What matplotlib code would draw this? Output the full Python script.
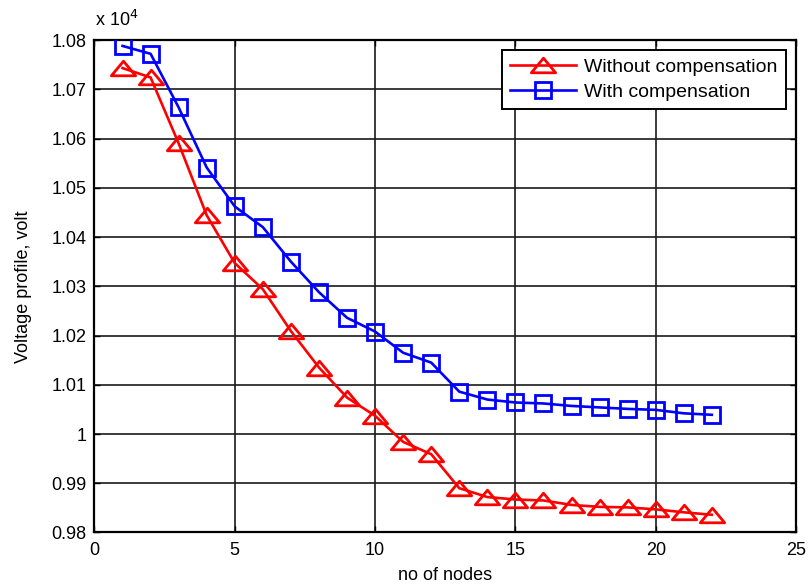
import matplotlib
matplotlib.use("Agg")
import matplotlib.pyplot as plt
from matplotlib.path import Path
from matplotlib.ticker import FuncFormatter

plt.rcParams['font.family'] = ['Liberation Sans', 'DejaVu Sans']

nodes = list(range(1, 23))
without_comp = [1.0743, 1.0724, 1.0590, 1.0444, 1.0347, 1.0294, 1.0209, 1.0135,
                1.0074, 1.0037, 0.9984, 0.9959, 0.9890, 0.9872, 0.9867, 0.9865,
                0.9856, 0.9852, 0.9851, 0.9847, 0.9841, 0.9836]
with_comp = [1.0788, 1.0772, 1.0663, 1.0541, 1.0462, 1.0420, 1.0350, 1.0288,
             1.0236, 1.0208, 1.0165, 1.0145, 1.0086, 1.0070, 1.0064, 1.0062,
             1.0057, 1.0054, 1.0051, 1.0049, 1.0042, 1.0039]
series_labels = ["Without compensation", "With compensation"]
x_ticks = [0, 5, 10, 15, 20, 25]
y_ticks = [0.98, 0.99, 1.00, 1.01, 1.02, 1.03, 1.04, 1.05, 1.06, 1.07, 1.08]

tri = Path([(-1, -0.6), (1, -0.6), (0, 0.6), (-1, -0.6)],
           [Path.MOVETO, Path.LINETO, Path.LINETO, Path.CLOSEPOLY])

fig = plt.figure(figsize=(8.11, 5.86), dpi=100)
ax = fig.add_axes([0.1165, 0.0913, 0.865, 0.8404])

ax.plot(nodes, without_comp, color='#ff0000', lw=1.9, marker=tri, markersize=17.5,
        markerfacecolor='none', markeredgecolor='#ff0000', markeredgewidth=2.0,
        label=series_labels[0], zorder=3)
ax.plot(nodes, with_comp, color='#0000ff', lw=1.9, marker='s', markersize=11,
        markerfacecolor='none', markeredgecolor='#0000ff', markeredgewidth=2.0,
        label=series_labels[1], zorder=3)

ax.set_xlim(0, 25)
ax.set_ylim(0.98, 1.08)
ax.set_xticks(x_ticks)
ax.set_yticks(y_ticks)
ax.yaxis.set_major_formatter(FuncFormatter(lambda v, p: f"{v:g}"))
ax.grid(True, color='#1a1a1a', lw=1.2, ls='-')
ax.tick_params(direction='in', length=4, width=1, labelsize=13,
               top=True, right=True)
ax.tick_params(axis='x', pad=6.5)
ax.tick_params(axis='y', pad=5.5)
for s in ax.spines.values():
    s.set_linewidth(1.6)

ax.set_xlabel("no of nodes", fontsize=13, labelpad=6)
ax.set_ylabel("Voltage profile, volt", fontsize=13, labelpad=14)
fig.text(0.117, 0.948, r"x 10$^{4}$", fontsize=13, ha='left', va='bottom')

leg = ax.legend(loc='upper right', fontsize=14, fancybox=False, framealpha=1,
                edgecolor='black', borderaxespad=0.5, handlelength=3.4,
                handletextpad=0.4, labelspacing=0.35, borderpad=0.45)
leg.get_frame().set_linewidth(1.4)

fig.savefig("out.png", dpi=100)
